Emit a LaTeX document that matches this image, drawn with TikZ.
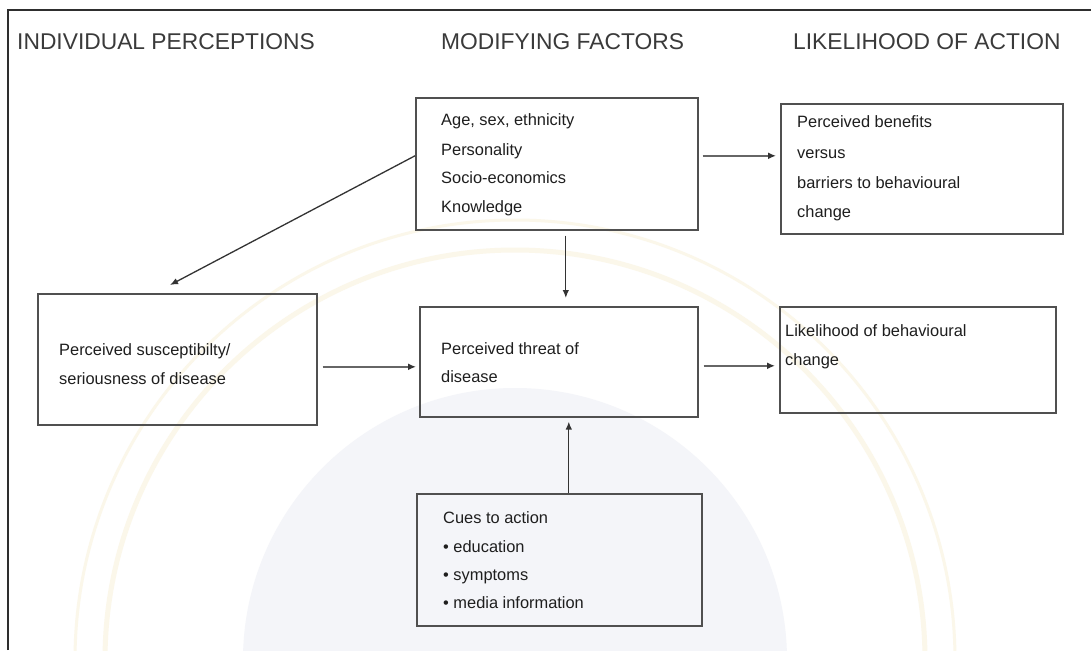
\documentclass[tikz,border=0pt]{standalone}
\usepackage{fontspec}
\setmainfont{Liberation Sans}
\usetikzlibrary{arrows.meta}
\definecolor{framec}{HTML}{2E2E2E}
\definecolor{boxc}{HTML}{505050}
\definecolor{headc}{HTML}{3A3A3A}
\definecolor{txtc}{HTML}{1E1E1E}
\definecolor{arrc}{HTML}{333333}
\definecolor{harrc}{HTML}{666666}
\definecolor{wmblue}{HTML}{F4F5F9}
\definecolor{wmyellow}{HTML}{FBF7EA}
\tikzset{
  box/.style={draw=boxc, line width=1.6pt, rectangle, inner sep=0pt, anchor=north west},
  head/.style={anchor=base west, inner sep=0pt, text=headc, font=\fontsize{22.8}{26}\selectfont},
  txt/.style={anchor=base west, inner sep=0pt, text=txtc, font=\fontsize{16.4}{19}\selectfont},
  arr/.style={draw=arrc, line width=1.3pt, -{Latex[length=8pt,width=6.5pt]}},
  harr/.style={draw=harrc, line width=2.2pt, -{Latex[length=8pt,width=7pt,color=arrc]}}
}
\begin{document}
\begin{tikzpicture}[x=1pt,y=-1pt]
\useasboundingbox (0,0) rectangle (1091,650);
\fill[white] (0,0) rectangle (1091,650);
% faint watermark
\begin{scope}
\clip (8,10) rectangle (1091,650);
\fill[wmblue] (515,660) circle[radius=272pt];
\draw[wmyellow, line width=5pt] (515,660) circle[radius=410pt];
\draw[wmyellow, line width=3pt] (515,660) circle[radius=440pt];
\end{scope}
% frame
\draw[framec, line width=2pt] (8,650) -- (8,10) -- (1091,10);
% headers
\node[head] (h1) at (17,50) {INDIVIDUAL PERCEPTIONS};
\node[head] (h2) at (441,50) {MODIFYING FACTORS};
\node[head] (h3) at (793,50) {LIKELIHOOD OF ACTION};
% boxes
\node[box, minimum width=282pt, minimum height=132pt] (m) at (415,97) {};
\node[box, minimum width=282pt, minimum height=130pt] (b) at (780,103) {};
\node[box, minimum width=279pt, minimum height=131pt] (s) at (37,293) {};
\node[box, minimum width=278pt, minimum height=110pt] (t) at (419,306) {};
\node[box, minimum width=276pt, minimum height=106pt] (l) at (779,306) {};
\node[box, minimum width=285pt, minimum height=132pt] (c) at (416,493) {};
% texts
\node[txt] (m1) at (441,125) {Age, sex, ethnicity};
\node[txt] (m2) at (441,155) {Personality};
\node[txt] (m3) at (441,183) {Socio-economics};
\node[txt] (m4) at (441,212) {Knowledge};
\node[txt] (b1) at (797,128) {Perceived benefits};
\node[txt] (b2) at (797,158) {versus};
\node[txt] (b3) at (797,188) {barriers to behavioural};
\node[txt] (b4) at (797,217) {change};
\node[txt] (s1) at (59,355) {Perceived susceptibilty/};
\node[txt] (s2) at (59,384) {seriousness of disease};
\node[txt] (t1) at (441,354) {Perceived threat of};
\node[txt] (t2) at (441,382) {disease};
\node[txt] (l1) at (785,336) {Likelihood of behavioural};
\node[txt] (l2) at (785,365) {change};
\node[txt] (c1) at (443,523) {Cues to action};
\node[txt] (c2) at (443,552) {• education};
\node[txt] (c3) at (443,580) {• symptoms};
\node[txt] (c4) at (443,608) {• media information};
% connectors
\draw[arr] ([yshift=8pt]m.west) -- ([xshift=133pt,yshift=8pt]s.north west);
\draw[arr, shorten <=5pt, shorten >=8pt] ([xshift=9pt]m.south) -- ([xshift=9pt]m.south |- t.north);
\draw[harr, shorten <=4pt, shorten >=4pt] ([yshift=8pt]m.east) -- ([yshift=8pt]m.east -| b.west);
\draw[harr, shorten <=5pt, shorten >=3pt] ([yshift=-7.5pt]s.east) -- ([yshift=-7.5pt]s.east -| t.west);
\draw[harr, shorten <=5pt, shorten >=4pt] ([yshift=-4pt]t.east) -- ([yshift=-4pt]t.east -| l.west);
\draw[arr, shorten >=4pt] ([xshift=9.5pt]c.north) -- ([xshift=9.5pt]c.north |- t.south);
\end{tikzpicture}
\end{document}
